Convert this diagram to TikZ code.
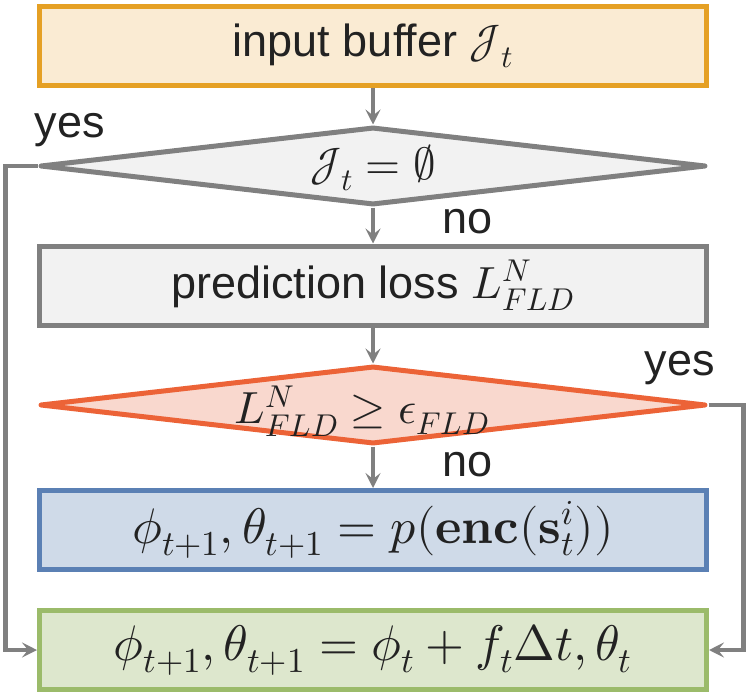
\documentclass[tikz,border=0pt]{standalone}
\usepackage{unicode-math}
\setmainfont{Liberation Sans}
\setmathfont{Latin Modern Math}
\usetikzlibrary{shapes.geometric,arrows.meta}
\definecolor{orB}{HTML}{E5A024}
\definecolor{orF}{HTML}{FAEBD3}
\definecolor{grB}{HTML}{808080}
\definecolor{grF}{HTML}{F2F2F2}
\definecolor{rdB}{HTML}{EC6337}
\definecolor{rdF}{HTML}{F9D8CE}
\definecolor{blB}{HTML}{5B80B4}
\definecolor{blF}{HTML}{CFDAE8}
\definecolor{gnB}{HTML}{9BBB6A}
\definecolor{gnF}{HTML}{DDE7CD}
\definecolor{txt}{HTML}{222222}
\tikzset{
  boxst/.style={draw, line width=5pt, rectangle, minimum width=667pt, minimum height=79pt, inner sep=0pt, text=txt, font=\fontsize{45}{52}\selectfont},
  mathbox/.style={boxst, font=\fontsize{50}{58}\selectfont},
  dia/.style={draw, line width=5pt, line join=round, diamond, minimum width=666pt, minimum height=78pt, inner sep=0pt},
  lbl/.style={text=txt, font=\fontsize{45}{52}\selectfont, inner sep=0pt},
  conn/.style={draw=grB, line width=4.5pt, -{Stealth[length=15pt,width=15pt,inset=6pt]}}
}
\begin{document}
\begin{tikzpicture}[x=1pt,y=-1pt]
\useasboundingbox (0,0) rectangle (747,698);
\node[boxst, draw=orB, fill=orF] (b1) at (373,46) {input buffer $\mathcal{J}_t$};
\node[dia, draw=grB, fill=grF] (d1) at (373,166) {};
\node[lbl] (d1t) at (373,168) {$\mathcal{J}_t = \emptyset$};
\node[boxst, draw=grB, fill=grF] (b2) at (373,285.5) {prediction loss $L^N_{FLD}$};
\node[dia, draw=rdB, fill=rdF] (d2) at (373,405) {};
\node[lbl] (d2t) at (362,411) {$L^N_{FLD} \geq \epsilon_{FLD}$};
\node[mathbox, draw=blB, fill=blF] (b4) at (373,530) {$\phi_{t+1},\theta_{t+1} = p(\symbf{enc}(\symbf{s}^i_t))$};
\node[mathbox, draw=gnB, fill=gnF] (b5) at (373,650) {$\phi_{t+1},\theta_{t+1} = \phi_t + f_t\Delta t,\theta_t$};

\node[lbl] (y1) at (70,130) {yes};
\node[lbl] (n1) at (468,222) {no};
\node[lbl] (y2) at (680,368) {yes};
\node[lbl] (n2) at (468,465) {no};

\draw[conn] (b1.south) -- (d1.north);
\draw[conn] (d1.south) -- (b2.north);
\draw[conn] (b2.south) -- (d2.north);
\draw[conn] (d2.south) -- (b4.north);
\draw[conn] (d1.west) -- ++(-32,0) |- (b5.west);
\draw[conn] (d2.east) -- ++(35,0) |- (b5.east);
\end{tikzpicture}
\end{document}
